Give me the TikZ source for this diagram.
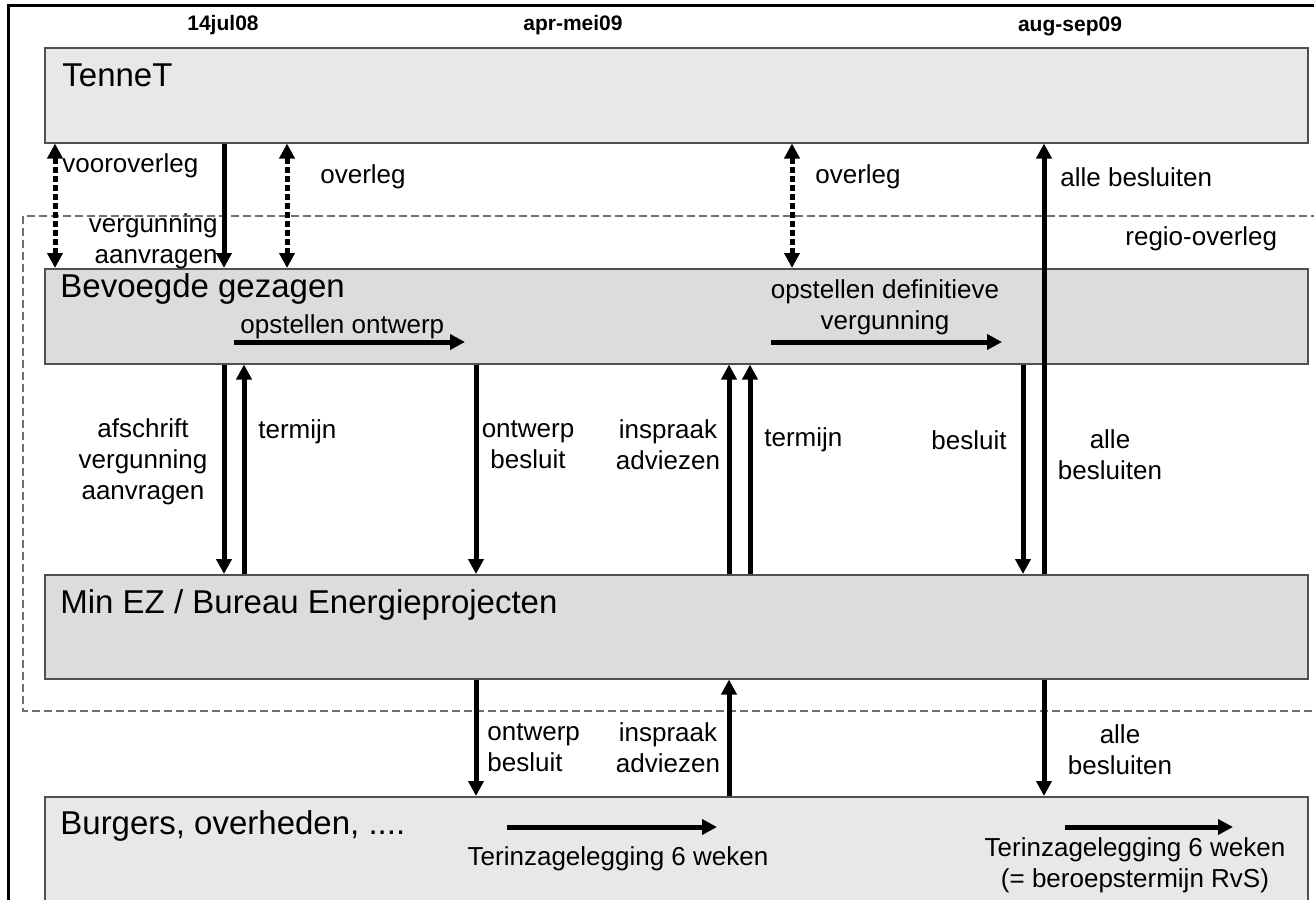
\documentclass[tikz,border=0pt]{standalone}
\usepackage{fontspec}
\setmainfont{Liberation Sans}
\usetikzlibrary{arrows.meta}
\definecolor{boxlight}{HTML}{E8E8E8}
\definecolor{boxdark}{HTML}{DCDCDC}
\definecolor{boxline}{HTML}{505050}
\definecolor{regio}{HTML}{707070}
\begin{document}
\begin{tikzpicture}[x=0.5pt,y=-0.5pt,
  lane/.style={draw=boxline, line width=0.75pt, inner sep=0, anchor=north west, minimum width=631.5pt},
  big/.style={font=\fontsize{16.5}{20}\selectfont, inner sep=0},
  lbl/.style={font=\fontsize{13}{15.5}\selectfont, inner sep=0},
  datelbl/.style={font=\bfseries\fontsize{10.5}{12}\selectfont, inner sep=0},
  flow/.style={line width=2.5pt, -{Triangle[width=7.5pt,length=7.5pt]}},
  talk/.style={line width=2.5pt, dash pattern=on 3pt off 1.5pt,
    {Triangle[width=7.5pt,length=7.5pt]}-{Triangle[width=7.5pt,length=7.5pt]}},
  regiobox/.style={draw=regio, line width=0.6pt, dash pattern=on 4pt off 2pt},
]
\useasboundingbox (0,0) rectangle (1314,900);
\clip (0,0) rectangle (1314,900);
\fill[white] (0,0) rectangle (1314,900);

% outer frame
\coordinate (frbl) at (8,910);
\coordinate (frtl) at (8,5);
\coordinate (frtr) at (1330,5);
\draw[line width=1.5pt] (frbl) -- (frtl) -- (frtr);

% regio-overleg dashed region
\coordinate (rg1) at (23,216);
\coordinate (rg2) at (1340,711);
\draw[regiobox] (rg1) rectangle (rg2);

% date labels
\node[datelbl] (d1) at (223,25) {14jul08};
\node[datelbl] (d2) at (573,25) {apr-mei09};
\node[datelbl] (d3) at (1070,26) {aug-sep09};

% lanes
\node[lane, fill=boxlight, minimum height=47.5pt] (ten) at (44,47) {};
\node[lane, fill=boxdark, minimum height=47.5pt] (bev) at (44,268) {};
\node[lane, fill=boxdark, minimum height=52pt] (mez) at (44,574) {};
\node[lane, fill=boxlight, minimum height=60pt] (bur) at (44,796) {};

\node[big, anchor=base west] (tenlbl) at (62,86) {TenneT};
\node[big, anchor=base west] (bevlbl) at (60,297) {Bevoegde gezagen};
\node[big, anchor=base west] (mezlbl) at (60,613) {Min EZ / Bureau Energieprojecten};
\node[big, anchor=base west] (burlbl) at (60,834) {Burgers, overheden, ....};

% column coordinates
\coordinate (x55) at (55,0);
\coordinate (x224) at (224,0);
\coordinate (x244) at (244,0);
\coordinate (x287) at (287,0);
\coordinate (x476) at (476,0);
\coordinate (x729) at (729,0);
\coordinate (x750) at (750,0);
\coordinate (x792) at (792,0);
\coordinate (x1023) at (1023,0);
\coordinate (x1044) at (1044,0);

% TenneT <-> Bevoegde gezagen
\draw[talk] (x55 |- ten.south) -- (x55 |- bev.north);
\draw[flow] (x224 |- ten.south) -- (x224 |- bev.north);
\draw[talk] (x287 |- ten.south) -- (x287 |- bev.north);
\draw[talk] (x792 |- ten.south) -- (x792 |- bev.north);
\draw[flow] (x1044 |- mez.north) -- (x1044 |- ten.south);

\node[lbl, anchor=west] (l1) at (62,166) {vooroverleg};
\node[lbl, anchor=east, align=right] (l2) at (218,241) {vergunning\\aanvragen};
\node[lbl, anchor=west] (l3) at (320,177) {overleg};
\node[lbl, anchor=west] (l4) at (815,177) {overleg};
\node[lbl, anchor=west] (l5) at (1060,177) {alle besluiten};
\node[lbl, anchor=west] (l6) at (1125,239) {regio-overleg};

% inside Bevoegde gezagen
\coordinate (oo1) at (234,342);
\coordinate (oo2) at (465,342);
\draw[flow] (oo1) -- (oo2);
\node[lbl, anchor=west] (l7) at (240,327) {opstellen ontwerp};
\coordinate (od1) at (771,342);
\coordinate (od2) at (1002,342);
\draw[flow] (od1) -- (od2);
\node[lbl, align=center] (l8) at (885,307) {opstellen definitieve\\vergunning};

% Bevoegde gezagen <-> Min EZ
\draw[flow] (x224 |- bev.south) -- (x224 |- mez.north);
\draw[flow] (x244 |- mez.north) -- (x244 |- bev.south);
\draw[flow] (x476 |- bev.south) -- (x476 |- mez.north);
\draw[flow] (x729 |- mez.north) -- (x729 |- bev.south);
\draw[flow] (x750 |- mez.north) -- (x750 |- bev.south);
\draw[flow] (x1023 |- bev.south) -- (x1023 |- mez.north);

\node[lbl, align=center] (l9) at (143,462) {afschrift\\vergunning\\aanvragen};
\node[lbl, anchor=west] (l10) at (258,432) {termijn};
\node[lbl, align=center] (l11) at (528,445) {ontwerp\\besluit};
\node[lbl, align=center] (l12) at (668,445) {inspraak\\adviezen};
\node[lbl, anchor=west] (l13) at (764,440) {termijn};
\node[lbl, anchor=east] (l14) at (1007,440) {besluit};
\node[lbl, align=center] (l15) at (1110,455) {alle\\besluiten};

% Min EZ <-> Burgers
\draw[flow] (x476 |- mez.south) -- (x476 |- bur.north);
\draw[flow] (x729 |- bur.north) -- (x729 |- mez.south);
\draw[flow] (x1044 |- mez.south) -- (x1044 |- bur.north);

\node[lbl, anchor=west, align=left] (l16) at (487,748) {ontwerp\\besluit};
\node[lbl, align=center] (l17) at (668,748) {inspraak\\adviezen};
\node[lbl, align=center] (l18) at (1120,750) {alle\\besluiten};

% inside Burgers
\coordinate (t1a) at (507,827);
\coordinate (t1b) at (717,827);
\draw[flow] (t1a) -- (t1b);
\node[lbl] (l19) at (618,859) {Terinzagelegging 6 weken};
\coordinate (t2a) at (1065,827);
\coordinate (t2b) at (1233,827);
\draw[flow] (t2a) -- (t2b);
\node[lbl, align=center] (l20) at (1135,865) {Terinzagelegging 6 weken\\(= beroepstermijn RvS)};
\end{tikzpicture}
\end{document}
